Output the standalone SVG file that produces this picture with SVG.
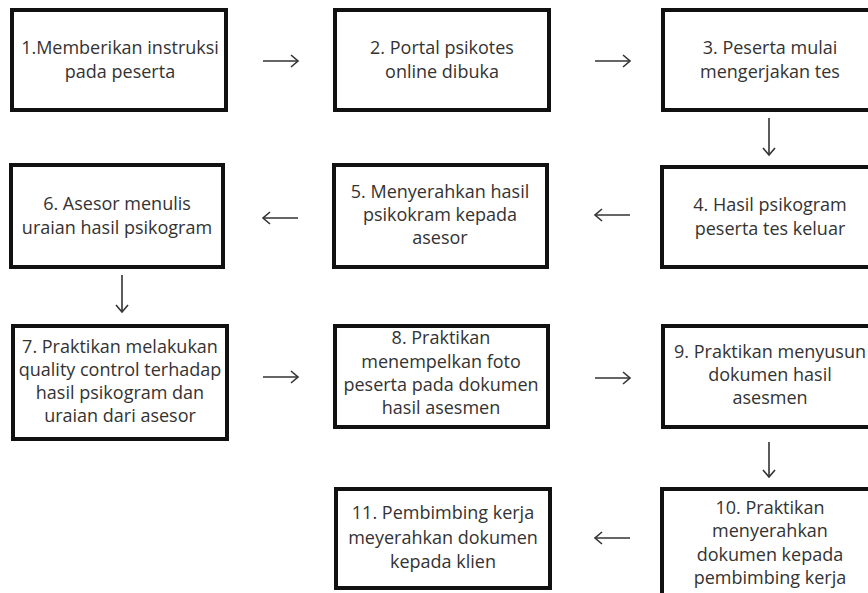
<svg xmlns="http://www.w3.org/2000/svg" width="868" height="593" viewBox="0 0 868 593">
<defs>
<style>
.box{fill:#fff;stroke:#111;stroke-width:4}
.t{font-family:"Open Sans","Noto Sans",sans-serif;font-size:18px;fill:#333;text-anchor:middle}
.c{stroke:#333;stroke-width:1.6;fill:none}
</style>
<marker id="ah" markerUnits="userSpaceOnUse" markerWidth="14" markerHeight="16" refX="8" refY="7" orient="auto" viewBox="0 0 14 16">
<path d="M1,1 L8,7 L1,13" fill="none" stroke="#333" stroke-width="1.6"/>
</marker>
</defs>
<rect width="868" height="593" fill="#fff"/>
<g id="n1"><rect class="box" x="12" y="10" width="214" height="100"/>
<text class="t" x="120"><tspan x="120" y="54">1.Memberikan instruksi</tspan><tspan x="120" y="78">pada peserta</tspan></text></g>
<g id="n2"><rect class="box" x="335" y="10" width="214" height="100"/>
<text class="t"><tspan x="442" y="54">2. Portal psikotes</tspan><tspan x="442" y="78">online dibuka</tspan></text></g>
<g id="n3"><rect class="box" x="663" y="10" width="214" height="100"/>
<text class="t"><tspan x="770" y="54">3. Peserta mulai</tspan><tspan x="770" y="78">mengerjakan tes</tspan></text></g>
<g id="n4"><rect class="box" x="662" y="167" width="215" height="100"/>
<text class="t"><tspan x="770" y="211">4. Hasil psikogram</tspan><tspan x="770" y="235">peserta tes keluar</tspan></text></g>
<g id="n5"><rect class="box" x="334" y="165" width="213" height="102"/>
<text class="t"><tspan x="440" y="198">5. Menyerahkan hasil</tspan><tspan x="440" y="221">psikokram kepada</tspan><tspan x="440" y="244">asesor</tspan></text></g>
<g id="n6"><rect class="box" x="11" y="165" width="212" height="102"/>
<text class="t"><tspan x="117" y="210">6. Asesor menulis</tspan><tspan x="117" y="234">uraian hasil psikogram</tspan></text></g>
<g id="n7"><rect class="box" x="13" y="326" width="214" height="113"/>
<text class="t"><tspan x="120" y="353">7. Praktikan melakukan</tspan><tspan x="120" y="376">quality control terhadap</tspan><tspan x="120" y="399">hasil psikogram dan</tspan><tspan x="120" y="422">uraian dari asesor</tspan></text></g>
<g id="n8"><rect class="box" x="335" y="326" width="213" height="101"/>
<text class="t"><tspan x="441" y="344">8. Praktikan</tspan><tspan x="441" y="368">menempelkan foto</tspan><tspan x="441" y="391">peserta pada dokumen</tspan><tspan x="441" y="414">hasil asesmen</tspan></text></g>
<g id="n9"><rect class="box" x="663" y="326" width="214" height="101"/>
<text class="t"><tspan x="770" y="358">9. Praktikan menyusun</tspan><tspan x="770" y="381">dokumen hasil</tspan><tspan x="770" y="404">asesmen</tspan></text></g>
<g id="n10"><rect class="box" x="662" y="489" width="215" height="120"/>
<text class="t"><tspan x="770" y="514">10. Praktikan</tspan><tspan x="770" y="537">menyerahkan</tspan><tspan x="770" y="561">dokumen kepada</tspan><tspan x="770" y="584">pembimbing kerja</tspan></text></g>
<g id="n11"><rect class="box" x="336" y="489" width="214" height="99"/>
<text class="t"><tspan x="443" y="519">11. Pembimbing kerja</tspan><tspan x="443" y="544">meyerahkan dokumen</tspan><tspan x="443" y="568">kepada klien</tspan></text></g>
<g id="connectors">
<line class="c" x1="263" y1="61" x2="298" y2="61" marker-end="url(#ah)"/>
<line class="c" x1="595" y1="61" x2="630" y2="61" marker-end="url(#ah)"/>
<line class="c" x1="769" y1="118" x2="769" y2="155" marker-end="url(#ah)"/>
<line class="c" x1="630" y1="215" x2="595" y2="215" marker-end="url(#ah)"/>
<line class="c" x1="298" y1="218" x2="263" y2="218" marker-end="url(#ah)"/>
<line class="c" x1="122" y1="275" x2="122" y2="312" marker-end="url(#ah)"/>
<line class="c" x1="263" y1="377" x2="298" y2="377" marker-end="url(#ah)"/>
<line class="c" x1="595" y1="378" x2="630" y2="378" marker-end="url(#ah)"/>
<line class="c" x1="769" y1="442" x2="769" y2="477" marker-end="url(#ah)"/>
<line class="c" x1="630" y1="538" x2="595" y2="538" marker-end="url(#ah)"/>
</g>
</svg>
